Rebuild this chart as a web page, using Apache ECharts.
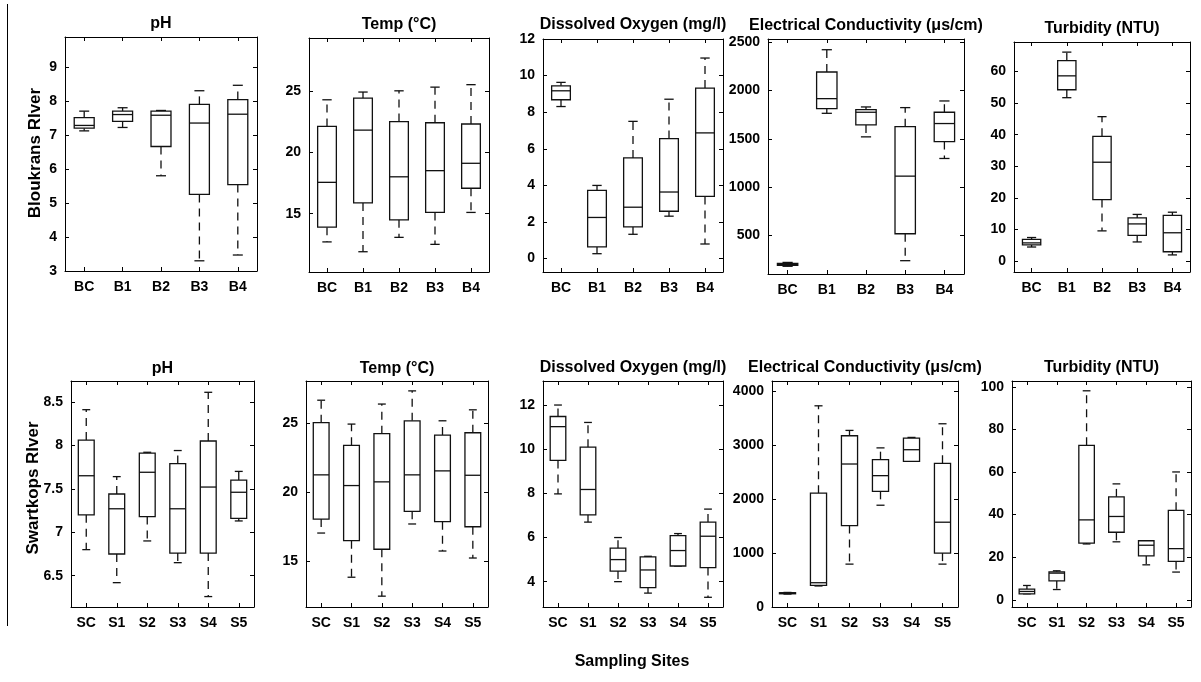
<!DOCTYPE html>
<html>
<head>
<meta charset="utf-8">
<script src="https://cdn.jsdelivr.net/npm/echarts@6/dist/echarts.min.js"></script>
<style>
html,body{margin:0;padding:0;background:#fff;}
#chart{width:1201px;height:682px;}
</style>
</head>
<body>
<div id="chart"></div>
<script>
// ---- categories ----
const topSites = ['BC', 'B1', 'B2', 'B3', 'B4'];
const bottomSites = ['SC', 'S1', 'S2', 'S3', 'S4', 'S5'];

// ---- box values: [min, Q1, median, Q3, max] per site ----
const bloukransPH = [[7.12, 7.20, 7.28, 7.51, 7.70], [7.22, 7.40, 7.60, 7.70, 7.80], [5.80, 6.66, 7.58, 7.70, 7.72], [3.30, 5.25, 7.35, 7.90, 8.30], [3.47, 5.54, 7.61, 8.04, 8.46]];
const bloukransTemp = [[12.7, 13.9, 17.55, 22.1, 24.27], [11.9, 15.87, 21.8, 24.4, 24.9], [13.07, 14.5, 18.0, 22.5, 25.0], [12.5, 15.1, 18.5, 22.4, 25.3], [15.1, 17.07, 19.1, 22.3, 25.5]];
const bloukransDO = [[8.31, 8.68, 9.17, 9.44, 9.63], [0.27, 0.64, 2.25, 3.73, 4.0], [1.33, 1.74, 2.81, 5.5, 7.5], [2.32, 2.59, 3.64, 6.56, 8.71], [0.8, 3.4, 6.87, 9.32, 10.96]];
const bloukransEC = [[180, 190, 200, 210, 220], [1765, 1814, 1917, 2193, 2424], [1521, 1645, 1776, 1803, 1831], [238, 517, 1114, 1627, 1824], [1297, 1472, 1659, 1776, 1893]];
const bloukransTurb = [[4.5, 5.2, 5.8, 6.9, 7.5], [51.7, 54.2, 58.6, 63.4, 66.1], [9.6, 19.5, 31.3, 39.5, 45.7], [6.1, 8.2, 11.8, 13.7, 14.8], [2.0, 3.0, 9.0, 14.5, 15.5]];

const swartkopsPH = [[6.80, 7.20, 7.65, 8.06, 8.41], [6.42, 6.75, 7.27, 7.44, 7.64], [6.90, 7.18, 7.69, 7.91, 7.92], [6.65, 6.76, 7.27, 7.79, 7.94], [6.26, 6.76, 7.52, 8.05, 8.61], [7.13, 7.16, 7.46, 7.60, 7.70]];
const swartkopsTemp = [[17.02, 18.04, 21.26, 25.06, 26.7], [13.8, 16.46, 20.48, 23.41, 24.96], [12.42, 15.84, 20.75, 24.26, 26.42], [17.68, 18.6, 21.26, 25.2, 27.38], [15.71, 17.85, 21.55, 24.16, 25.2], [15.2, 17.48, 21.23, 24.33, 26.0]];
const swartkopsDO = [[7.98, 9.5, 11.03, 11.49, 12.01], [6.7, 7.03, 8.18, 10.1, 11.22], [4.0, 4.48, 5.0, 5.52, 6.0], [3.48, 3.73, 4.53, 5.12, 5.15], [4.71, 4.71, 5.41, 6.09, 6.18], [3.29, 4.64, 6.06, 6.7, 7.29]];
const swartkopsEC = [[240, 245, 255, 265, 270], [390, 400, 450, 2110, 3730], [795, 1510, 2651, 3175, 3274], [1887, 2145, 2435, 2731, 2950], [2700, 2700, 2916, 3132, 3144], [795, 999, 1572, 2663, 3397]];
const swartkopsTurb = [[2.8, 2.8, 3.9, 5.0, 6.7], [4.8, 8.9, 12.5, 13.1, 13.6], [26.2, 26.6, 37.5, 72.5, 98.1], [27.2, 31.7, 39.1, 48.3, 54.4], [16.4, 20.6, 25.6, 27.7, 27.7], [13, 18, 24, 42, 60]];

// ---- tick labels ----
const phTopTicks = [3, 4, 5, 6, 7, 8, 9];
const tempTopTicks = [15, 20, 25];
const doTopTicks = [0, 2, 4, 6, 8, 10, 12];
const ecTopTicks = [500, 1000, 1500, 2000, 2500];
const turbTopTicks = [0, 10, 20, 30, 40, 50, 60];
const phBotTicks = [6.5, 7, 7.5, 8, 8.5];
const tempBotTicks = [15, 20, 25];
const doBotTicks = [4, 6, 8, 10, 12];
const ecBotTicks = [0, 1000, 2000, 3000, 4000];
const turbBotTicks = [0, 20, 40, 60, 80, 100];

// ---- texts ----
const paramTitles = ['pH', 'Temp (°C)', 'Dissolved Oxygen (mg/l)', 'Electrical Conductivity (μs/cm)', 'Turbidity (NTU)'];
const riverNames = ['Bloukrans RIver', 'Swartkops RIver'];
const xName = 'Sampling Sites';

// ---- layout (positions / axis ranges) ----
const FONT = '"Liberation Sans", Arial, sans-serif';
const panels = [
  {sites: topSites, data: bloukransPH, ticks: phTopTicks, left: 65, top: 37, width: 192, height: 234, min: 3, max: 9.88, title: 0, ty: 24},
  {sites: topSites, data: bloukransTemp, ticks: tempTopTicks, left: 309, top: 38, width: 180, height: 234, min: 10.25, max: 29.3, title: 1, ty: 25},
  {sites: topSites, data: bloukransDO, ticks: doTopTicks, left: 543, top: 39, width: 180, height: 233, min: -0.73, max: 12, title: 2, ty: 25},
  {sites: topSites, data: bloukransEC, ticks: ecTopTicks, left: 768, top: 39, width: 196, height: 235, min: 100, max: 2535, title: 3, ty: 26},
  {sites: topSites, data: bloukransTurb, ticks: turbTopTicks, left: 1014, top: 42, width: 176, height: 230, min: -3.4, max: 69.3, title: 4, ty: 29},
  {sites: bottomSites, data: swartkopsPH, ticks: phBotTicks, left: 71, top: 381, width: 183, height: 226, min: 6.14, max: 8.74, title: 0, ty: 369},
  {sites: bottomSites, data: swartkopsTemp, ticks: tempBotTicks, left: 306, top: 381, width: 182, height: 226, min: 11.63, max: 28.1, title: 1, ty: 369},
  {sites: bottomSites, data: swartkopsDO, ticks: doBotTicks, left: 543, top: 381, width: 180, height: 226, min: 2.85, max: 13.1, title: 2, ty: 368},
  {sites: bottomSites, data: swartkopsEC, ticks: ecBotTicks, left: 772, top: 381, width: 186, height: 226, min: 0, max: 4190, title: 3, ty: 368},
  {sites: bottomSites, data: swartkopsTurb, ticks: turbBotTicks, left: 1012, top: 381, width: 179, height: 226, min: -3.4, max: 102.7, title: 4, ty: 368}
];

const axisLineStyle = {color: '#000', width: 1};
const labelStyle = {color: '#000', fontWeight: 'bold', fontSize: 14, fontFamily: FONT};

const grids = [], xAxes = [], yAxes = [], series = [], graphics = [];

function renderBox(params, api) {
  const i = api.value(0);
  const vMin = api.value(1), q1 = api.value(2), med = api.value(3), q3 = api.value(4), vMax = api.value(5);
  const c = api.coord([i, med]);
  const cx = c[0];
  const yMin = api.coord([i, vMin])[1];
  const yQ1 = api.coord([i, q1])[1];
  const yMed = c[1];
  const yQ3 = api.coord([i, q3])[1];
  const yMax = api.coord([i, vMax])[1];
  const bw = api.size([1, 0])[0] * 0.52;
  const cw = bw * 0.5;
  const stroke = '#111';
  const dashed = {stroke: stroke, lineWidth: 1.3, lineDash: [8, 6], fill: null};
  const solid = {stroke: stroke, lineWidth: 1.3, fill: null};
  return {
    type: 'group',
    children: [
      {type: 'line', shape: {x1: cx, y1: yQ3, x2: cx, y2: yMax}, style: dashed},
      {type: 'line', shape: {x1: cx, y1: yQ1, x2: cx, y2: yMin}, style: dashed},
      {type: 'line', shape: {x1: cx - cw / 2, y1: yMax, x2: cx + cw / 2, y2: yMax}, style: solid},
      {type: 'line', shape: {x1: cx - cw / 2, y1: yMin, x2: cx + cw / 2, y2: yMin}, style: solid},
      {type: 'rect', shape: {x: cx - bw / 2, y: yQ3, width: bw, height: Math.max(yQ1 - yQ3, 1)}, style: {stroke: stroke, lineWidth: 1.3, fill: '#fff'}},
      {type: 'line', shape: {x1: cx - bw / 2, y1: yMed, x2: cx + bw / 2, y2: yMed}, style: solid}
    ]
  };
}

panels.forEach((p, k) => {
  grids.push({left: p.left, top: p.top, width: p.width, height: p.height, containLabel: false});
  xAxes.push({
    type: 'category', gridIndex: k, data: p.sites, position: 'bottom',
    boundaryGap: true,
    axisLine: {show: true, lineStyle: axisLineStyle, onZero: false},
    axisTick: {show: true, inside: true, length: 4, alignWithLabel: true, lineStyle: axisLineStyle},
    axisLabel: Object.assign({margin: 9, interval: 0}, labelStyle),
    splitLine: {show: false}
  });
  xAxes.push({
    type: 'category', gridIndex: k, data: p.sites, position: 'top',
    boundaryGap: true,
    axisLine: {show: true, lineStyle: axisLineStyle, onZero: false},
    axisTick: {show: true, inside: true, length: 4, alignWithLabel: true, lineStyle: axisLineStyle},
    axisLabel: {show: false},
    splitLine: {show: false}
  });
  yAxes.push({
    type: 'value', gridIndex: k, position: 'left', min: p.min, max: p.max,
    axisLine: {show: true, lineStyle: axisLineStyle, onZero: false},
    axisTick: {show: true, inside: true, length: 4, lineStyle: axisLineStyle, customValues: p.ticks},
    axisLabel: Object.assign({margin: 8, customValues: p.ticks, formatter: (v) => String(v)}, labelStyle),
    splitLine: {show: false}
  });
  yAxes.push({
    type: 'value', gridIndex: k, position: 'right', min: p.min, max: p.max,
    axisLine: {show: true, lineStyle: axisLineStyle, onZero: false},
    axisTick: {show: true, inside: true, length: 4, lineStyle: axisLineStyle, customValues: p.ticks},
    axisLabel: {show: false, customValues: p.ticks},
    splitLine: {show: false}
  });
  series.push({
    type: 'custom', xAxisIndex: 2 * k, yAxisIndex: 2 * k,
    data: p.data.map((v, i) => [i].concat(v)),
    encode: {x: 0, y: [1, 2, 3, 4, 5]},
    renderItem: renderBox,
    clip: false,
    silent: true
  });
  graphics.push({
    type: 'text', x: p.left + p.width / 2, y: p.ty,
    style: {text: paramTitles[p.title], align: 'center', verticalAlign: 'middle', fill: '#000', font: 'bold 16px ' + FONT}
  });
});

graphics.push({type: 'text', x: 35, y: 153, rotation: Math.PI / 2,
  style: {text: riverNames[0], align: 'center', verticalAlign: 'middle', fill: '#000', font: 'bold 17px ' + FONT}});
graphics.push({type: 'text', x: 33, y: 488, rotation: Math.PI / 2,
  style: {text: riverNames[1], align: 'center', verticalAlign: 'middle', fill: '#000', font: 'bold 17px ' + FONT}});
graphics.push({type: 'text', x: 632, y: 662,
  style: {text: xName, align: 'center', verticalAlign: 'middle', fill: '#000', font: 'bold 16px ' + FONT}});
graphics.push({type: 'line', shape: {x1: 7.5, y1: 4, x2: 7.5, y2: 626}, style: {stroke: '#000', lineWidth: 1}});

const chart = echarts.init(document.getElementById('chart'), null, {renderer: 'canvas'});
chart.setOption({
  animation: false,
  backgroundColor: '#fff',
  grid: grids,
  xAxis: xAxes,
  yAxis: yAxes,
  series: series,
  graphic: graphics
});
</script>
</body>
</html>
